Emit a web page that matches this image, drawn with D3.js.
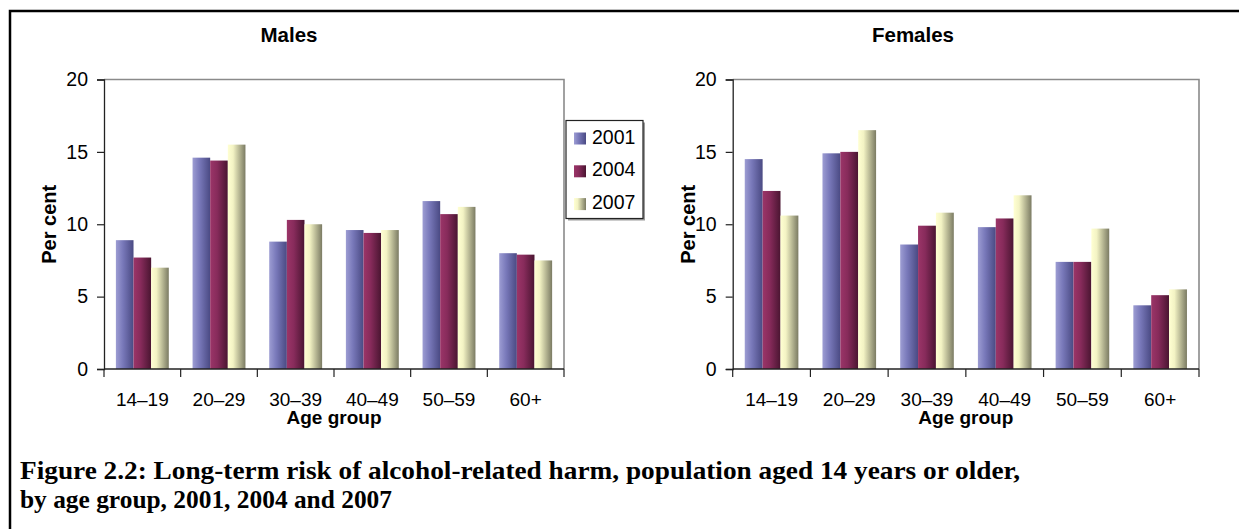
<!DOCTYPE html>
<html>
<head>
<meta charset="utf-8">
<script src="https://cdn.jsdelivr.net/npm/d3@7"></script>
<style>
  html, body { margin: 0; padding: 0; background: #fff; overflow: hidden; }
  svg { display: block; }
  text { font-family: Arial, "Liberation Sans", sans-serif; fill: #000; }
  text.caption { font-family: "Liberation Serif", "Times New Roman", serif; font-weight: bold; }
</style>
</head>
<body>
<svg id="chart" width="1239" height="529"></svg>
<script>
// Age groups on the x axis
const ageGroups = ["14\u201319", "20\u201329", "30\u201339", "40\u201349", "50\u201359", "60+"];
// Survey years (series)
const years = ["2001", "2004", "2007"];
// Per cent at long-term risk, one array per survey year
const males2001 = [8.9, 14.6, 8.8, 9.6, 11.6, 8.0];
const males2004 = [7.7, 14.4, 10.3, 9.4, 10.7, 7.9];
const males2007 = [7.0, 15.5, 10.0, 9.6, 11.2, 7.5];
const females2001 = [14.5, 14.9, 8.6, 9.8, 7.4, 4.4];
const females2004 = [12.3, 15.0, 9.9, 10.4, 7.4, 5.1];
const females2007 = [10.6, 16.5, 10.8, 12.0, 9.7, 5.5];
// Y axis ticks
const yTicks = [0, 5, 10, 15, 20];

const svg = d3.select("#chart");

// Outer figure frame (left and top edges; the rest runs off the page)
svg.append("path")
  .attr("d", "M10,700V11H1400")
  .attr("fill", "none").attr("stroke", "#000").attr("stroke-width", 2.5);

// Horizontal shading for each series
const shades = {
  "2001": [["0%", "#9d9dd3"], ["40%", "#7878b9"], ["100%", "#4a4a83"]],
  "2004": [["0%", "#9b3568"], ["40%", "#872b5b"], ["100%", "#4a1531"]],
  "2007": [["0%", "#ffffd2"], ["30%", "#f3f3c4"], ["100%", "#7b7b63"]]
};
const defs = svg.append("defs");
years.forEach(y => {
  const g = defs.append("linearGradient").attr("id", "grad" + y)
    .attr("x1", "0%").attr("x2", "100%").attr("y1", "0%").attr("y2", "0%");
  shades[y].forEach(([o, c]) => g.append("stop").attr("offset", o).attr("stop-color", c));
});

function drawPanel(opts) {
  const { title, titleX, left, right, series, yLabelX } = opts;
  const top = 79.5, bottom = 369;
  const g = svg.append("g");

  const x0 = d3.scaleBand().domain(ageGroups).range([left, right])
    .paddingInner(0.31).paddingOuter(0.155);
  const x1 = d3.scaleBand().domain(years).range([0, x0.bandwidth()]).padding(0);
  const y = d3.scaleLinear().domain([0, 20]).range([bottom, top]);

  // plot area frame (top and right edges)
  g.append("path")
    .attr("d", `M${left},${top}H${right}V${bottom}`)
    .attr("fill", "none").attr("stroke", "#8a8a8a").attr("stroke-width", 1.6);

  // bars
  const rows = ageGroups.map((a, i) => ({ age: a, vals: years.map((yr, k) => ({ yr, v: series[k][i] })) }));
  g.selectAll("g.grp").data(rows).join("g")
    .attr("transform", d => `translate(${x0(d.age)},0)`)
    .selectAll("rect").data(d => d.vals).join("rect")
    .attr("x", d => x1(d.yr))
    .attr("width", x1.bandwidth())
    .attr("y", d => y(d.v))
    .attr("height", d => bottom - y(d.v))
    .attr("fill", d => `url(#grad${d.yr})`);

  // y axis
  const ya = g.append("g").attr("transform", `translate(${left},0)`)
    .call(d3.axisLeft(y).tickValues(yTicks).tickSize(7).tickPadding(9).tickFormat(d3.format("d")));
  ya.select(".domain").attr("stroke", "#222").attr("stroke-width", 1.3);
  ya.selectAll(".tick line").attr("stroke", "#222").attr("stroke-width", 1.2);
  ya.selectAll(".tick text").attr("font-size", 19.5).attr("font-family", "Arial, 'Liberation Sans', sans-serif").attr("fill", "#000");

  // x axis: ticks at band boundaries
  const xa = g.append("g").attr("transform", `translate(0,${bottom})`);
  xa.append("line").attr("x1", left).attr("x2", right).attr("stroke", "#222").attr("stroke-width", 1.5);
  const step = x0.step();
  const bounds = d3.range(ageGroups.length + 1).map(i => left + i * step);
  xa.selectAll("line.tk").data(bounds).join("line").attr("class", "tk")
    .attr("x1", d => d).attr("x2", d => d).attr("y1", 0).attr("y2", 8)
    .attr("stroke", "#222").attr("stroke-width", 1.2);
  xa.selectAll("text.cat").data(ageGroups).join("text").attr("class", "cat")
    .attr("x", d => x0(d) + x0.bandwidth() / 2)
    .attr("y", 37)
    .attr("text-anchor", "middle").attr("font-size", 19)
    .text(d => d);

  // axis titles
  g.append("text")
    .attr("x", (left + right) / 2).attr("y", 424)
    .attr("text-anchor", "middle").attr("font-size", 19).attr("font-weight", "bold")
    .text("Age group");
  g.append("text")
    .attr("transform", `translate(${yLabelX},${(top + bottom) / 2}) rotate(-90)`)
    .attr("text-anchor", "middle").attr("dominant-baseline", "central")
    .attr("font-size", 20).attr("font-weight", "bold")
    .text("Per cent");

  // panel title
  g.append("text")
    .attr("x", titleX).attr("y", 42)
    .attr("text-anchor", "middle").attr("font-size", 20.5).attr("font-weight", "bold")
    .text(title);
}

drawPanel({
  title: "Males", titleX: 289, left: 104, right: 564,
  series: [males2001, males2004, males2007], yLabelX: 49
});
drawPanel({
  title: "Females", titleX: 913, left: 732.7, right: 1199,
  series: [females2001, females2004, females2007], yLabelX: 688
});

// Legend for the Males panel
const lg = svg.append("g").attr("transform", "translate(566,120.5)");
lg.append("rect").attr("x", 2).attr("y", 2).attr("width", 77).attr("height", 98).attr("fill", "#9a9a9a");
lg.append("rect").attr("x", 0).attr("y", 0).attr("width", 77).attr("height", 98)
  .attr("fill", "#fff").attr("stroke", "#222").attr("stroke-width", 1.2);
const li = lg.selectAll("g.item").data(years).join("g").attr("class", "item")
  .attr("transform", (d, i) => `translate(0,${i * 32.8})`);
li.append("rect").attr("x", 8).attr("y", 12).attr("width", 12).attr("height", 12)
  .attr("fill", d => `url(#grad${d})`);
li.append("text").attr("x", 26).attr("y", 23).attr("font-size", 19.5).text(d => d);

// Figure caption
const captionLines = [
  "Figure 2.2: Long-term risk of alcohol-related harm, population aged 14 years or older,",
  "by age group, 2001, 2004 and 2007"
];
const captionWidths = [1000, 372];
svg.append("g").selectAll("text").data(captionLines).join("text")
  .attr("class", "caption")
  .attr("x", 20).attr("y", (d, i) => 479 + i * 29)
  .attr("font-size", 25)
  .attr("textLength", (d, i) => captionWidths[i]).attr("lengthAdjust", "spacingAndGlyphs")
  .text(d => d);
</script>
</body>
</html>
